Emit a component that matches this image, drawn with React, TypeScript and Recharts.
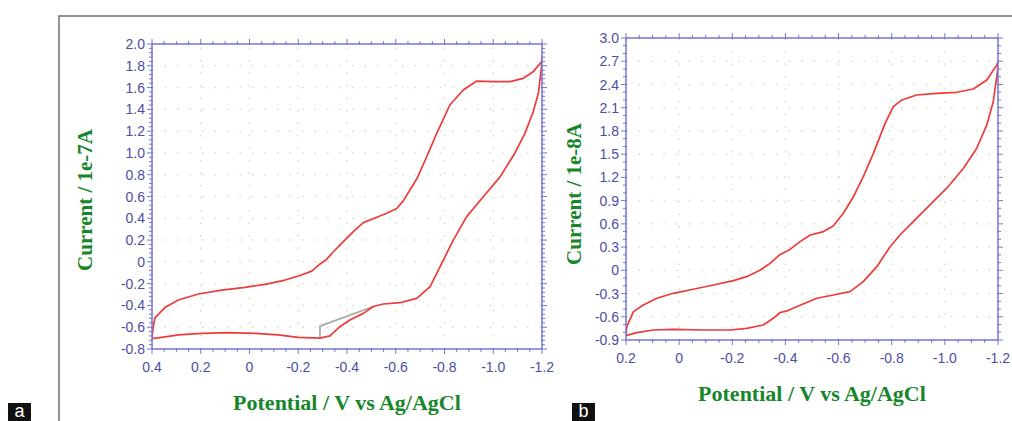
import { LineChart, Line, XAxis, YAxis, ReferenceLine } from "recharts"

// panel a: potential (V) and current (1e-7 A), one closed loop
const potentialA = [
  0.4, 0.395, 0.388, 0.347, 0.292, 0.21, 0.114, 0.018, -0.064, -0.146, -0.207, -0.255, -0.289, -0.315,
  -0.344, -0.385, -0.426, -0.467, -0.522, -0.563, -0.604, -0.631, -0.658, -0.686, -0.727, -0.768, -0.822,
  -0.877, -0.932, -1.0, -1.069, -1.123, -1.164, -1.199, -1.2,
  -1.198, -1.185, -1.164, -1.13, -1.089, -1.028, -0.959, -0.891, -0.836, -0.782, -0.741, -0.686, -0.617,
  -0.549, -0.508, -0.467, -0.412, -0.371, -0.33, -0.289, -0.2, -0.118, -0.023, 0.087, 0.196, 0.292, 0.36, 0.4,
]
const currentA = [
  -0.705, -0.6, -0.515, -0.42, -0.35, -0.295, -0.26, -0.234, -0.206, -0.167, -0.125, -0.085, -0.02, 0.02,
  0.093, 0.185, 0.277, 0.36, 0.41, 0.446, 0.49, 0.56, 0.66, 0.76, 0.965, 1.18, 1.44,
  1.578, 1.66, 1.654, 1.654, 1.685, 1.746, 1.84, 1.88,
  1.79, 1.547, 1.378, 1.18, 1.0, 0.78, 0.598, 0.415, 0.2, -0.044, -0.228, -0.335, -0.375,
  -0.387, -0.41, -0.473, -0.534, -0.595, -0.68, -0.7, -0.693, -0.67, -0.656, -0.65, -0.656, -0.67, -0.693, -0.705,
]
// grey baseline segment in panel a
const baselineE = [-0.289, -0.289, -0.508]
const baselineI = [-0.7, -0.59, -0.41]

// panel b: potential (V) and current (1e-8 A)
const potentialB = [
  0.2, 0.197, 0.172, 0.135, 0.084, 0.022, -0.053, -0.129, -0.204, -0.254, -0.304, -0.342, -0.38, -0.417,
  -0.455, -0.493, -0.543, -0.58, -0.618, -0.656, -0.693, -0.731, -0.775, -0.806, -0.838, -0.894, -0.969,
  -1.045, -1.107, -1.158, -1.195, -1.2,
  -1.198, -1.182, -1.158, -1.12, -1.07, -1.007, -0.944, -0.881, -0.831, -0.794, -0.744, -0.693, -0.643,
  -0.58, -0.518, -0.442, -0.41, -0.38, -0.354, -0.317, -0.254, -0.191, -0.091, 0.022, 0.097, 0.16, 0.2,
]
const currentB = [
  -0.85, -0.728, -0.534, -0.448, -0.361, -0.297, -0.245, -0.19, -0.134, -0.082, 0.0, 0.09, 0.205, 0.27,
  0.37, 0.456, 0.5, 0.572, 0.736, 0.95, 1.21, 1.51, 1.898, 2.113, 2.2, 2.264, 2.286,
  2.299, 2.341, 2.458, 2.65, 2.694,
  2.565, 2.177, 1.877, 1.576, 1.317, 1.06, 0.844, 0.628, 0.456, 0.305, 0.047, -0.147, -0.276,
  -0.319, -0.361, -0.47, -0.52, -0.545, -0.62, -0.706, -0.749, -0.771, -0.771, -0.762, -0.771, -0.805, -0.845,
]

const xTicksA = [0.4, 0.2, 0, -0.2, -0.4, -0.6, -0.8, -1.0, -1.2]
const yTicksA = [2.0, 1.8, 1.6, 1.4, 1.2, 1.0, 0.8, 0.6, 0.4, 0.2, 0, -0.2, -0.4, -0.6, -0.8]
const xTicksB = [0.2, 0, -0.2, -0.4, -0.6, -0.8, -1.0, -1.2]
const yTicksB = [3.0, 2.7, 2.4, 2.1, 1.8, 1.5, 1.2, 0.9, 0.6, 0.3, 0, -0.3, -0.6, -0.9]

const AXIS = "#7676d4"
const LABEL = "#4d4da8"
const GRID = "#d3dfbd"
const TITLE = "#16862b"
const RED = "#ef3a3a"

const zip = (xs: number[], ys: number[]) => xs.map((e, k) => ({ e, i: ys[k] }))

// majors plus evenly spaced minor marks between them
function withMinor(majors: number[], parts: number) {
  const out: number[] = []
  for (let k = 0; k < majors.length - 1; k++) {
    for (let j = 0; j < parts; j++) out.push(majors[k] + ((majors[k + 1] - majors[k]) * j) / parts)
  }
  out.push(majors[majors.length - 1])
  return out
}

const fmt = (v: number) => (Math.abs(v) < 1e-9 ? "0" : v.toFixed(1))

function makeTick(side: "bottom" | "top" | "left" | "right", majors: number[], labels: boolean) {
  return (props: any) => {
    const { x, y, payload } = props
    const v = payload.value as number
    const major = majors.some((m) => Math.abs(m - v) < 1e-6)
    const len = major ? 5 : 3
    let line
    if (side === "bottom") line = <line x1={x} x2={x} y1={y - 1} y2={y + len} stroke={AXIS} />
    else if (side === "top") line = <line x1={x} x2={x} y1={y + 1} y2={y - len} stroke={AXIS} />
    else if (side === "left") line = <line x1={x + 1} x2={x - len} y1={y} y2={y} stroke={AXIS} />
    else line = <line x1={x - 1} x2={x + len} y1={y} y2={y} stroke={AXIS} />
    let text = null
    if (labels && major) {
      if (side === "bottom")
        text = (
          <text x={x} y={y + 23} textAnchor="middle" fill={LABEL} fontSize={14} fontFamily="Liberation Sans, Arial">
            {fmt(v)}
          </text>
        )
      else
        text = (
          <text x={x - 7} y={y} dy="0.36em" textAnchor="end" fill={LABEL} fontSize={14} fontFamily="Liberation Sans, Arial">
            {fmt(v)}
          </text>
        )
    }
    return (
      <g>
        {line}
        {text}
      </g>
    )
  }
}

type PanelProps = {
  left: number
  width: number
  margin: { top: number; right: number; bottom: number; left: number }
  rows: { e: number; i: number }[]
  extra?: { e: number; i: number }[]
  xTicks: number[]
  yTicks: number[]
  xMinor: number
  yMinor: number
}

function Panel({ left, width, margin, rows, extra, xTicks, yTicks, xMinor, yMinor }: PanelProps) {
  const xAll = withMinor(xTicks, xMinor)
  const yAll = withMinor(yTicks, yMinor)
  const xDom = [xTicks[xTicks.length - 1], xTicks[0]]
  const yDom = [yTicks[yTicks.length - 1], yTicks[0]]
  return (
    <div style={{ position: "absolute", left, top: 0 }}>
      <LineChart width={width} height={421} margin={margin}>
        <XAxis
          type="number"
          dataKey="e"
          domain={xDom}
          reversed
          allowDataOverflow
          ticks={xAll}
          interval={0}
          height={30}
          tickSize={0}
          tickMargin={0}
          tickLine={false}
          axisLine={{ stroke: AXIS, strokeWidth: 1.5 }}
          tick={makeTick("bottom", xTicks, true)}
        />
        <XAxis
          xAxisId="top"
          orientation="top"
          type="number"
          dataKey="e"
          domain={xDom}
          reversed
          allowDataOverflow
          ticks={xAll}
          interval={0}
          height={10}
          tickSize={0}
          tickMargin={0}
          tickLine={false}
          axisLine={{ stroke: AXIS, strokeWidth: 1.5 }}
          tick={makeTick("top", xTicks, false)}
        />
        <YAxis
          type="number"
          dataKey="i"
          domain={yDom}
          allowDataOverflow
          ticks={yAll}
          interval={0}
          width={60}
          tickSize={0}
          tickMargin={0}
          tickLine={false}
          axisLine={{ stroke: AXIS, strokeWidth: 1.5 }}
          tick={makeTick("left", yTicks, true)}
        />
        <YAxis
          yAxisId="right"
          orientation="right"
          type="number"
          dataKey="i"
          domain={yDom}
          allowDataOverflow
          ticks={yAll}
          interval={0}
          width={10}
          tickSize={0}
          tickMargin={0}
          tickLine={false}
          axisLine={{ stroke: AXIS, strokeWidth: 1.5 }}
          tick={makeTick("right", yTicks, false)}
        />
        {xTicks.slice(1, -1).map((v) => (
          <ReferenceLine key={"x" + v} x={v} stroke={GRID} strokeWidth={1.5} strokeDasharray="1.5 11" />
        ))}
        {yTicks.slice(1, -1).map((v) => (
          <ReferenceLine key={"y" + v} y={v} stroke={GRID} strokeWidth={1.5} strokeDasharray="1.5 11" />
        ))}
        {extra && (
          <Line data={extra} dataKey="i" type="linear" stroke="#a8a8a8" strokeWidth={1.7} dot={false} isAnimationActive={false} />
        )}
        <Line
          data={rows}
          dataKey="i"
          type="linear"
          stroke={RED}
          strokeWidth={1.7}
          strokeLinejoin="round"
          dot={false}
          isAnimationActive={false}
        />
      </LineChart>
    </div>
  )
}

const titleFont = { fontFamily: "Liberation Serif, Times New Roman, serif", fontWeight: 700, fill: TITLE }

export default function App() {
  return (
    <div style={{ position: "absolute", left: 0, top: 0, width: 1012, height: 421, background: "#fff", overflow: "hidden" }}>
      <Panel
        left={0}
        width={590}
        margin={{ top: 34, right: 38, bottom: 42, left: 92 }}
        rows={zip(potentialA, currentA)}
        extra={zip(baselineE, baselineI)}
        xTicks={xTicksA}
        yTicks={yTicksA}
        xMinor={4}
        yMinor={5}
      />
      <Panel
        left={560}
        width={452}
        margin={{ top: 28, right: 4, bottom: 51, left: 6 }}
        rows={zip(potentialB, currentB)}
        xTicks={xTicksB}
        yTicks={yTicksB}
        xMinor={4}
        yMinor={3}
      />
      <svg width={1012} height={421} style={{ position: "absolute", left: 0, top: 0, pointerEvents: "none" }}>
        <path d="M59,421 L59,16 L1012,16" fill="none" stroke="#707070" strokeWidth={1.5} />
        <text x={92} y={200} transform="rotate(-90 92 200)" textAnchor="middle" fontSize={21} {...titleFont}>
          Current / 1e-7A
        </text>
        <text x={347} y={410} textAnchor="middle" fontSize={22} {...titleFont}>
          Potential / V vs Ag/AgCl
        </text>
        <text x={581} y={194} transform="rotate(-90 581 194)" textAnchor="middle" fontSize={21} {...titleFont}>
          Current / 1e-8A
        </text>
        <text x={812} y={401} textAnchor="middle" fontSize={22} {...titleFont}>
          Potential / V vs Ag/AgCl
        </text>
        <rect x={8} y={403} width={23} height={18} fill="#111" />
        <text x={19.5} y={417} textAnchor="middle" fill="#fff" fontSize={18} fontFamily="Liberation Sans, Arial">
          a
        </text>
        <rect x={572} y={403} width={23} height={18} fill="#111" />
        <text x={583.5} y={417} textAnchor="middle" fill="#fff" fontSize={18} fontFamily="Liberation Sans, Arial">
          b
        </text>
      </svg>
    </div>
  )
}
